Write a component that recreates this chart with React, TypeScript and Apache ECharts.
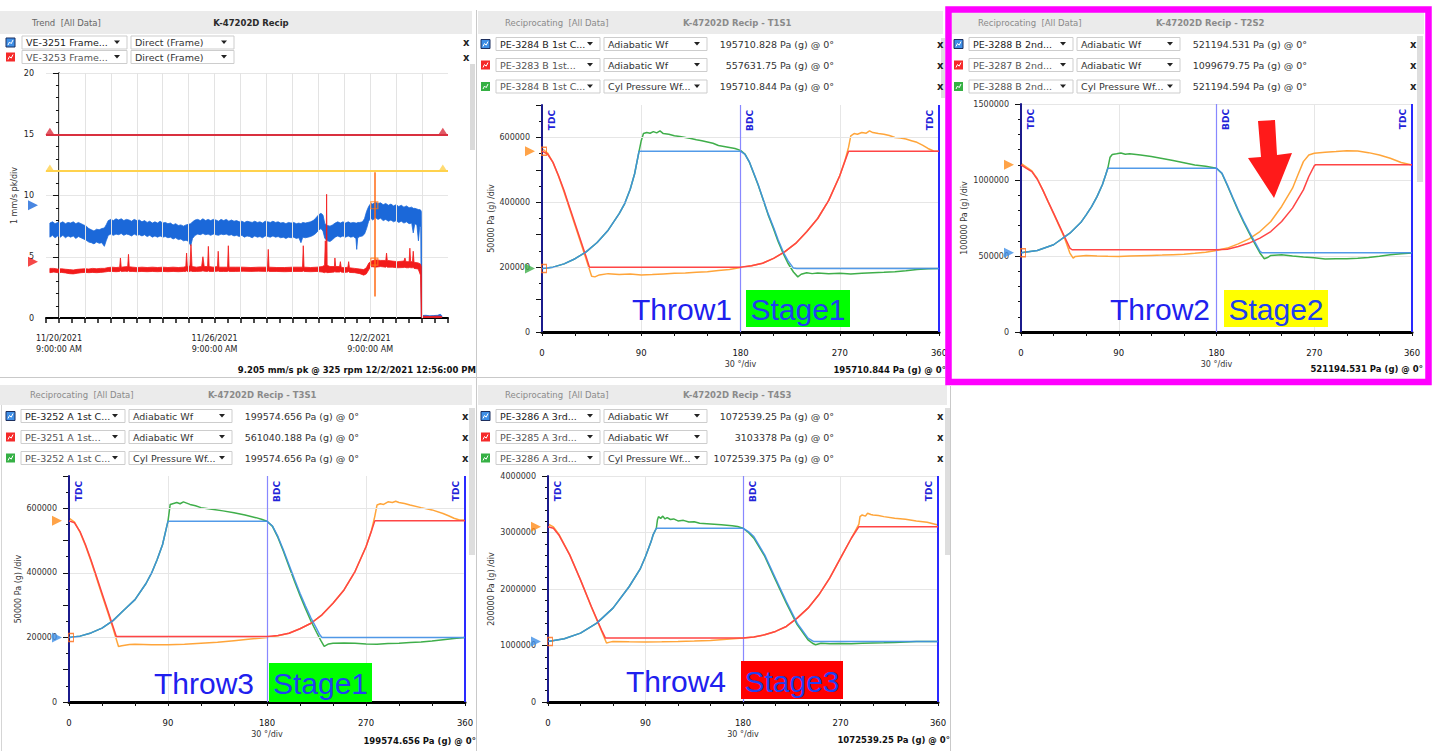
import React, { useEffect, useRef } from 'react';
import * as echarts from 'echarts';

const FONT = "'DejaVu Sans', Verdana, sans-serif";
const ARIAL = "'Liberation Sans', Arial, sans-serif";

// ---------------- Trend panel data (x = days since 11/20/2021 9:00 AM) ----------------
const trendTickDays = [0, 6, 12];
const trendTickDates = ['11/20/2021', '11/26/2021', '12/2/2021'];
const trendTickTime = '9:00:00 AM';
const trendGridDays = [0, 1, 2, 3, 4, 5, 6, 7, 8, 9, 10, 11, 12, 13, 14];
const trendLegend = [
  ['VE-3251 Frame...', 'Direct (Frame)'],
  ['VE-3253 Frame...', 'Direct (Frame)'],
];
const trendStatus = '9.205 mm/s pk @ 325 rpm 12/2/2021 12:56:00 PM';
const alarmHigh = 15;
const alarmWarn = 12;
const alarmMarkDays = [-0.35, 14.8];
const cursorDay = 12.16;
const cursorSpan = [1.75, 11.9];
const blueCurrent = 9.205;
const redCurrent = 4.6;

// [day, low, high] envelope of the noisy trend traces
const blueTrend = [
  [-0.35, 6.6, 7.75], [-0.25, 6.75, 7.85], [-0.15, 6.55, 7.7], [-0.05, 6.7, 7.8], [0.05, 6.6, 7.75],
  [0.15, 6.75, 7.85], [0.25, 6.55, 7.7], [0.35, 6.7, 7.8], [0.45, 6.6, 7.75], [0.55, 6.7, 7.85],
  [0.65, 6.5, 7.7], [0.75, 6.65, 7.8], [0.85, 6.55, 7.7], [0.95, 6.45, 7.6], [1.05, 6.35, 7.5],
  [1.15, 6.2, 7.3], [1.25, 6.15, 7.2], [1.35, 6.05, 7.1], [1.45, 6.2, 7.25], [1.55, 6.1, 7.2],
  [1.65, 6.15, 7.3], [1.75, 5.85, 7.35], [1.82, 6.3, 7.6], [1.9, 6.75, 7.95], [2.0, 6.85, 8.05],
  [2.1, 6.75, 7.95], [2.2, 6.85, 8.1], [2.3, 6.8, 8.0], [2.4, 6.9, 8.1], [2.5, 6.75, 7.95],
  [2.6, 6.85, 8.05], [2.7, 6.8, 8.0], [2.8, 6.7, 7.9], [2.9, 6.85, 8.05], [3.0, 6.75, 7.95],
  [3.1, 6.8, 8.0], [3.2, 6.7, 7.85], [3.3, 6.8, 7.95], [3.4, 6.65, 7.8], [3.5, 6.75, 7.9],
  [3.6, 6.6, 7.75], [3.7, 6.7, 7.85], [3.8, 6.6, 7.75], [3.9, 6.7, 7.9], [4.0, 6.6, 7.75],
  [4.1, 6.65, 7.8], [4.2, 6.55, 7.7], [4.3, 6.6, 7.75], [4.4, 6.45, 7.6], [4.5, 6.55, 7.7],
  [4.6, 6.4, 7.55], [4.7, 6.45, 7.6], [4.8, 6.3, 7.5], [4.9, 6.35, 7.6], [5.0, 6.25, 7.65],
  [5.08, 5.9, 7.7], [5.15, 6.5, 7.85], [5.25, 6.75, 8.0], [5.35, 6.85, 8.05], [5.45, 6.8, 7.95],
  [5.55, 6.9, 8.1], [5.65, 6.8, 7.95], [5.75, 6.85, 8.05], [5.85, 6.75, 7.95], [5.95, 6.85, 8.05],
  [6.05, 6.8, 8.0], [6.15, 6.75, 7.9], [6.25, 6.85, 8.05], [6.35, 6.8, 7.95], [6.45, 6.85, 8.05],
  [6.55, 6.75, 7.9], [6.65, 6.8, 8.0], [6.75, 6.7, 7.9], [6.85, 6.75, 7.95], [6.95, 6.65, 7.85],
  [7.05, 6.75, 7.9], [7.15, 6.6, 7.8], [7.25, 6.7, 7.9], [7.35, 6.65, 7.85], [7.45, 6.55, 7.8],
  [7.55, 6.7, 7.9], [7.65, 6.6, 7.8], [7.75, 6.65, 7.85], [7.85, 6.55, 7.75], [7.95, 6.7, 7.9],
  [8.05, 6.65, 7.85], [8.15, 6.6, 7.8], [8.25, 6.7, 7.9], [8.35, 6.6, 7.8], [8.45, 6.65, 7.85],
  [8.55, 6.55, 7.75], [8.65, 6.6, 7.8], [8.75, 6.5, 7.7], [8.85, 6.6, 7.8], [8.95, 6.55, 7.75],
  [9.05, 6.6, 7.8], [9.15, 6.5, 7.7], [9.25, 6.55, 7.75], [9.33, 6.15, 7.7], [9.4, 6.6, 7.8],
  [9.5, 6.55, 7.75], [9.6, 6.6, 7.8], [9.7, 6.65, 7.85], [9.8, 6.75, 7.95], [9.9, 6.9, 8.15],
  [10.0, 7.15, 8.4], [10.1, 7.3, 8.55], [10.18, 7.1, 8.4], [10.25, 6.5, 7.7], [10.35, 6.3, 7.55],
  [10.45, 6.25, 7.5], [10.55, 6.4, 7.6], [10.65, 6.6, 7.75], [10.75, 6.7, 7.85], [10.85, 6.6, 7.75],
  [10.95, 6.7, 7.85], [11.05, 6.6, 7.75], [11.15, 6.7, 7.85], [11.25, 6.6, 7.75], [11.35, 6.65, 7.8],
  [11.45, 6.5, 7.75], [11.48, 5.6, 7.75], [11.52, 6.55, 7.8], [11.6, 6.65, 7.8], [11.7, 6.7, 7.85],
  [11.78, 6.85, 8.1], [11.86, 7.3, 8.7], [11.94, 7.9, 9.1], [12.02, 8.15, 9.35], [12.1, 8.0, 9.3],
  [12.2, 8.2, 9.45], [12.3, 8.05, 9.35], [12.4, 8.15, 9.4], [12.5, 7.95, 9.25], [12.6, 8.05, 9.35],
  [12.7, 7.9, 9.2], [12.8, 8.0, 9.3], [12.9, 7.85, 9.15], [13.0, 7.95, 9.25], [13.1, 7.8, 9.1],
  [13.2, 7.9, 9.2], [13.3, 7.75, 9.05], [13.4, 7.85, 9.15], [13.5, 7.7, 9.0], [13.6, 7.75, 9.05],
  [13.66, 6.95, 8.95], [13.72, 7.7, 8.95], [13.8, 7.6, 8.9], [13.86, 6.3, 8.85], [13.91, 7.5, 8.85],
  [13.95, 7.4, 8.8], [13.97, 0.1, 8.7], [14.0, 0.05, 0.2], [14.15, 0.08, 0.22], [14.3, 0.05, 0.18],
  [14.45, 0.07, 0.2], [14.6, 0.05, 0.22], [14.7, 0.1, 0.3], [14.76, 0.05, 0.2],
];

const redTrend = [
  [-0.35, 3.7, 4.05], [-0.2, 3.75, 4.05], [-0.05, 3.7, 4.0], [0.1, 3.72, 4.02], [0.25, 3.68, 3.98],
  [0.4, 3.62, 3.95], [0.55, 3.6, 3.92], [0.7, 3.65, 3.97], [0.85, 3.7, 4.0], [1.0, 3.72, 4.02],
  [1.15, 3.7, 4.0], [1.3, 3.72, 4.05], [1.45, 3.7, 4.02], [1.6, 3.72, 4.05], [1.75, 3.75, 4.05],
  [1.9, 3.8, 4.12], [2.05, 3.8, 4.15], [2.2, 3.78, 4.12], [2.34, 3.8, 4.15], [2.37, 3.85, 4.9],
  [2.4, 3.8, 4.15], [2.55, 3.82, 4.18], [2.65, 3.8, 4.2], [2.68, 3.85, 5.2], [2.71, 3.8, 4.18],
  [2.85, 3.8, 4.15], [3.0, 3.78, 4.12], [3.2, 3.8, 4.15], [3.4, 3.78, 4.12], [3.6, 3.8, 4.15],
  [3.8, 3.78, 4.12], [4.0, 3.8, 4.15], [4.2, 3.78, 4.12], [4.4, 3.8, 4.15], [4.6, 3.78, 4.12],
  [4.8, 3.8, 4.15], [4.89, 3.8, 4.2], [4.92, 3.85, 5.3], [4.95, 3.8, 4.2], [5.05, 3.8, 4.25],
  [5.09, 3.85, 6.0], [5.13, 3.8, 4.2], [5.3, 3.8, 4.15], [5.5, 3.82, 4.2], [5.55, 3.85, 5.0],
  [5.6, 3.82, 4.2], [5.73, 3.8, 4.2], [5.76, 3.85, 5.85], [5.79, 3.8, 4.2], [5.95, 3.8, 4.15],
  [6.11, 3.82, 4.2], [6.14, 3.85, 5.45], [6.17, 3.8, 4.15], [6.35, 3.8, 4.15], [6.5, 3.8, 4.15],
  [6.53, 3.85, 5.9], [6.56, 3.8, 4.15], [6.8, 3.8, 4.15], [7.1, 3.82, 4.15], [7.4, 3.8, 4.12],
  [7.7, 3.82, 4.15], [8.04, 3.8, 4.15], [8.07, 3.85, 5.6], [8.1, 3.8, 4.15], [8.4, 3.8, 4.12],
  [8.7, 3.78, 4.12], [9.0, 3.8, 4.15], [9.39, 3.8, 4.15], [9.42, 3.85, 5.9], [9.45, 3.8, 4.15],
  [9.7, 3.78, 4.12], [9.95, 3.8, 4.15], [10.15, 3.75, 4.2], [10.24, 3.7, 4.3], [10.27, 3.75, 6.3],
  [10.3, 3.7, 4.3], [10.32, 3.75, 10.1], [10.34, 3.7, 4.3], [10.45, 3.72, 4.2], [10.62, 3.75, 4.2],
  [10.64, 3.8, 4.9], [10.67, 3.75, 4.2], [10.82, 3.75, 4.2], [10.85, 3.8, 4.6], [10.88, 3.75, 4.15],
  [11.0, 3.72, 4.1], [11.14, 3.75, 4.15], [11.17, 3.8, 4.6], [11.2, 3.72, 4.1], [11.4, 3.7, 4.05],
  [11.6, 3.62, 4.0], [11.75, 3.5, 3.95], [11.85, 3.6, 4.1], [11.95, 3.95, 4.5], [12.05, 4.2, 4.65],
  [12.2, 4.15, 4.75], [12.4, 4.2, 4.7], [12.6, 4.15, 4.7], [12.63, 4.2, 5.3], [12.66, 4.15, 4.7],
  [12.85, 4.15, 4.65], [13.05, 4.1, 4.6], [13.3, 4.12, 4.65], [13.34, 4.15, 4.9], [13.38, 4.1, 4.6],
  [13.5, 4.1, 4.6], [13.53, 4.15, 5.7], [13.56, 4.1, 4.6], [13.63, 4.1, 4.6], [13.66, 4.15, 5.45],
  [13.69, 4.05, 4.55], [13.85, 4.0, 4.5], [13.94, 3.5, 4.4], [13.97, 0.05, 4.2], [14.0, 0.03, 0.15],
  [14.3, 0.05, 0.12], [14.6, 0.03, 0.15], [14.76, 0.05, 0.12],
];

// ---------------- Crank-angle waveforms: [degrees, Pa (g)] ----------------
const t1s1Blue = [[0, 195710], [10, 200000], [20, 210000], [30, 226000], [40, 247000], [50, 276000], [60, 314000], [70, 365000], [75, 396000], [80, 440000], [84, 488000], [88, 557631], [180, 557631], [184, 548000], [188, 525000], [192, 490000], [196, 455000], [200, 415000], [205, 365000], [210, 322000], [214, 285000], [219, 245000], [223, 220000], [228, 197000], [231, 195710], [360, 195710]];
const t1s1Green = [[0, 195710], [10, 200000], [20, 210000], [30, 226000], [40, 247000], [50, 276000], [60, 314000], [70, 365000], [75, 396000], [80, 440000], [84, 488000], [88, 557000], [90, 590000], [92, 612000], [95, 615000], [98, 613000], [101, 618000], [104, 614000], [107, 620000], [110, 612000], [115, 610000], [120, 605000], [125, 603000], [130, 600000], [135, 597000], [140, 593000], [145, 590000], [150, 586000], [155, 582000], [160, 575000], [165, 572000], [170, 569000], [175, 566000], [180, 560000], [184, 549000], [188, 524000], [192, 489000], [196, 453000], [200, 413000], [205, 362000], [210, 318000], [214, 280000], [219, 240000], [223, 212000], [228, 185000], [232, 170000], [235, 178000], [240, 183000], [245, 180000], [250, 182000], [260, 180000], [270, 181000], [280, 179000], [290, 181000], [300, 183000], [310, 184000], [320, 186000], [330, 189000], [340, 193000], [350, 195000], [360, 195710]];
const t1s1Red = [[0, 557631], [5, 549000], [10, 523000], [15, 482000], [20, 436000], [25, 385000], [30, 334000], [35, 283000], [40, 232000], [43, 200000], [180, 200000], [190, 204000], [200, 212000], [210, 227000], [220, 247000], [230, 273000], [240, 309000], [250, 350000], [260, 406000], [270, 482000], [275, 530000], [278, 557631], [360, 557631]];
const t1s1Orange = [[0, 566000], [5, 552000], [10, 522000], [15, 480000], [20, 432000], [25, 380000], [30, 328000], [35, 277000], [40, 225000], [45, 172000], [48, 170000], [52, 176000], [60, 180000], [70, 177000], [80, 179000], [90, 176000], [100, 177000], [110, 179000], [120, 181000], [130, 182000], [140, 184000], [150, 186000], [160, 190000], [170, 193000], [180, 199000], [190, 204000], [200, 212000], [210, 227000], [220, 247000], [230, 273000], [240, 309000], [250, 350000], [260, 406000], [270, 482000], [275, 532000], [278, 570000], [280, 605000], [283, 612000], [286, 610000], [290, 615000], [294, 613000], [297, 620000], [300, 615000], [305, 612000], [310, 610000], [315, 606000], [320, 600000], [325, 598000], [330, 595000], [335, 590000], [340, 585000], [345, 576000], [350, 566000], [355, 558000], [360, 557631]];

const t2s2Blue = [[0, 521194], [15, 536000], [30, 574000], [45, 650000], [55, 720000], [60, 771000], [65, 825000], [70, 891000], [75, 970000], [78, 1034000], [80, 1077000], [180, 1077000], [185, 1045000], [190, 968000], [195, 885000], [200, 804000], [205, 730000], [210, 661000], [215, 596000], [220, 530000], [222, 521194], [360, 521194]];
const t2s2Green = [[0, 521194], [15, 536000], [30, 574000], [45, 650000], [55, 720000], [60, 771000], [65, 825000], [70, 891000], [75, 970000], [78, 1034000], [80, 1080000], [82, 1150000], [84, 1168000], [88, 1172000], [92, 1178000], [96, 1170000], [100, 1172000], [110, 1165000], [120, 1154000], [130, 1142000], [140, 1128000], [150, 1114000], [160, 1099000], [170, 1090000], [175, 1084000], [180, 1077000], [185, 1043000], [190, 964000], [195, 880000], [200, 798000], [205, 722000], [210, 652000], [215, 585000], [220, 520000], [224, 482000], [227, 490000], [230, 504000], [240, 508000], [250, 500000], [260, 493000], [270, 488000], [280, 480000], [290, 482000], [300, 482000], [310, 485000], [320, 490000], [330, 498000], [340, 508000], [350, 515000], [360, 519000]];
const t2s2Red = [[0, 1099679], [5, 1077000], [10, 1055000], [15, 1005000], [20, 935000], [25, 858000], [30, 782000], [35, 705000], [40, 628000], [45, 552000], [47, 541000], [180, 541000], [190, 545000], [200, 563000], [210, 585000], [220, 618000], [230, 661000], [240, 727000], [250, 815000], [260, 935000], [265, 1023000], [270, 1093000], [271, 1099679], [360, 1099679]];
const t2s2Orange = [[0, 1110000], [5, 1085000], [10, 1060000], [15, 1008000], [20, 935000], [25, 855000], [30, 778000], [35, 700000], [40, 620000], [45, 519000], [48, 486000], [50, 497000], [60, 504000], [70, 500000], [80, 498000], [90, 497000], [100, 500000], [110, 502000], [120, 504000], [130, 506000], [140, 509000], [150, 512000], [160, 518000], [170, 525000], [180, 536000], [190, 552000], [200, 580000], [210, 613000], [220, 661000], [230, 727000], [240, 826000], [250, 946000], [255, 1034000], [260, 1121000], [265, 1165000], [270, 1176000], [280, 1182000], [290, 1187000], [300, 1193000], [310, 1191000], [320, 1180000], [330, 1165000], [340, 1143000], [350, 1115000], [360, 1099000]];

const t3s1Blue = [[0, 199574], [10, 204000], [20, 214000], [30, 229000], [40, 252000], [50, 285000], [60, 317000], [70, 367000], [75, 399000], [80, 440000], [85, 487000], [90, 560000], [180, 560000], [185, 545000], [190, 512000], [195, 470000], [200, 425000], [205, 380000], [210, 337000], [215, 297000], [220, 260000], [225, 228000], [228, 208000], [230, 200000], [360, 200000]];
const t3s1Green = [[0, 199574], [10, 204000], [20, 214000], [30, 229000], [40, 252000], [50, 285000], [60, 317000], [70, 367000], [75, 399000], [80, 440000], [85, 487000], [90, 560000], [92, 612000], [95, 615000], [98, 618000], [101, 614000], [104, 620000], [107, 616000], [110, 612000], [115, 608000], [120, 602000], [130, 597000], [140, 592000], [150, 586000], [160, 579000], [170, 571000], [175, 566000], [180, 560000], [185, 544000], [190, 509000], [195, 466000], [200, 420000], [205, 374000], [210, 330000], [215, 289000], [220, 250000], [225, 216000], [229, 190000], [232, 172000], [236, 180000], [240, 182000], [250, 183000], [260, 182000], [270, 180000], [280, 179000], [290, 181000], [300, 182000], [310, 184000], [320, 186000], [330, 189000], [340, 193000], [350, 197000], [360, 200000]];
const t3s1Red = [[0, 561040], [5, 555000], [10, 528000], [15, 487000], [20, 440000], [25, 389000], [30, 337000], [35, 286000], [40, 234000], [43, 203000], [180, 203000], [190, 206000], [200, 213000], [210, 227000], [220, 244000], [230, 270000], [240, 306000], [250, 347000], [260, 404000], [270, 481000], [275, 530000], [278, 561040], [360, 561040]];
const t3s1Orange = [[0, 570000], [5, 557000], [10, 526000], [15, 484000], [20, 436000], [25, 384000], [30, 331000], [35, 280000], [40, 228000], [45, 172000], [48, 174000], [55, 178000], [60, 179000], [75, 177000], [90, 177000], [105, 179000], [120, 182000], [135, 185000], [150, 190000], [165, 195000], [180, 200000], [190, 205000], [200, 213000], [210, 227000], [220, 244000], [230, 270000], [240, 306000], [250, 347000], [260, 404000], [270, 481000], [275, 532000], [278, 575000], [280, 610000], [283, 614000], [286, 612000], [290, 620000], [294, 618000], [297, 622000], [300, 618000], [305, 615000], [310, 610000], [320, 602000], [330, 595000], [340, 584000], [345, 577000], [350, 569000], [355, 564000], [360, 564000]];

const t4s3Blue = [[0, 1072539], [15, 1119000], [30, 1219000], [45, 1396000], [60, 1661000], [75, 2044000], [85, 2350000], [90, 2574000], [95, 2830000], [97, 2957000], [100, 3075000], [180, 3075000], [185, 3016000], [190, 2928000], [200, 2604000], [210, 2191000], [220, 1779000], [230, 1396000], [240, 1131000], [245, 1072539], [360, 1072539]];
const t4s3Green = [[0, 1072539], [15, 1119000], [30, 1219000], [45, 1396000], [60, 1661000], [75, 2044000], [85, 2350000], [90, 2574000], [95, 2830000], [97, 2957000], [100, 3075000], [101, 3220000], [102, 3281000], [104, 3250000], [106, 3290000], [108, 3240000], [110, 3264000], [113, 3230000], [116, 3240000], [120, 3205000], [125, 3215000], [130, 3185000], [135, 3190000], [140, 3164000], [150, 3150000], [160, 3135000], [170, 3120000], [175, 3105000], [180, 3075000], [185, 3000000], [190, 2900000], [200, 2580000], [210, 2160000], [220, 1750000], [230, 1370000], [240, 1100000], [245, 1030000], [247, 1013000], [252, 1040000], [260, 1031000], [270, 1035000], [280, 1031000], [290, 1038000], [300, 1043000], [310, 1048000], [320, 1054000], [330, 1062000], [340, 1072000], [350, 1070000], [360, 1072539]];
const t4s3Red = [[0, 3103378], [5, 3075000], [10, 2957000], [20, 2604000], [30, 2162000], [40, 1691000], [50, 1249000], [53, 1131000], [180, 1131000], [190, 1149000], [200, 1190000], [210, 1249000], [220, 1337000], [230, 1485000], [240, 1661000], [250, 1897000], [260, 2191000], [270, 2545000], [280, 2898000], [287, 3103378], [360, 3103378]];
const t4s3Orange = [[0, 3150000], [5, 3100000], [10, 2970000], [20, 2610000], [30, 2160000], [40, 1680000], [50, 1230000], [54, 1043000], [57, 1060000], [60, 1072000], [75, 1065000], [90, 1060000], [105, 1065000], [120, 1072000], [135, 1080000], [150, 1090000], [165, 1110000], [180, 1131000], [190, 1149000], [200, 1190000], [210, 1249000], [220, 1337000], [230, 1485000], [240, 1661000], [250, 1897000], [260, 2191000], [270, 2545000], [280, 2898000], [287, 3150000], [288, 3281000], [290, 3311000], [293, 3290000], [295, 3340000], [298, 3320000], [300, 3311000], [305, 3300000], [310, 3281000], [320, 3252000], [330, 3234000], [340, 3205000], [350, 3181000], [360, 3134000]];

const t1s1Legend = [['PE-3284 B 1st C...', 'Adiabatic Wf', '195710.828 Pa (g) @ 0°'], ['PE-3283 B 1st...', 'Adiabatic Wf', '557631.75 Pa (g) @ 0°'], ['PE-3284 B 1st C...', 'Cyl Pressure Wf...', '195710.844 Pa (g) @ 0°']];
const t2s2Legend = [['PE-3288 B 2nd...', 'Adiabatic Wf', '521194.531 Pa (g) @ 0°'], ['PE-3287 B 2nd...', 'Adiabatic Wf', '1099679.75 Pa (g) @ 0°'], ['PE-3288 B 2nd...', 'Cyl Pressure Wf...', '521194.594 Pa (g) @ 0°']];
const t3s1Legend = [['PE-3252 A 1st C...', 'Adiabatic Wf', '199574.656 Pa (g) @ 0°'], ['PE-3251 A 1st...', 'Adiabatic Wf', '561040.188 Pa (g) @ 0°'], ['PE-3252 A 1st C...', 'Cyl Pressure Wf...', '199574.656 Pa (g) @ 0°']];
const t4s3Legend = [['PE-3286 A 3rd...', 'Adiabatic Wf', '1072539.25 Pa (g) @ 0°'], ['PE-3285 A 3rd...', 'Adiabatic Wf', '3103378 Pa (g) @ 0°'], ['PE-3286 A 3rd...', 'Cyl Pressure Wf...', '1072539.375 Pa (g) @ 0°']];

const stage1Grid = [200000, 400000, 600000];

const C = { blue: '#3f8fe6', red: '#ff4545', green: '#3fae4a', orange: '#ffa53a' };

// layout of the four waveform panels
const wavePanels = [
  {
    title: 'K-47202D Recip - T1S1', legend: t1s1Legend, status: '195710.844 Pa (g) @ 0°', unit: '50000 Pa (g) /div',
    lines: [t1s1Orange, t1s1Green, t1s1Red, t1s1Blue], yMax: 700000, yInt: 100000, labelEvery: 200000, minor: 2, hGrid: stage1Grid,
    markers: { orange: 557631, low: 195710, lowColor: C.green, highSquare: true },
    throwTxt: 'Throw1', stageTxt: 'Stage1', stageBg: '#00ff00',
    x0: 475, band: [478, 11, 465, 23], headY: 23, rows: [44, 65, 86.5], statusX: 946, statusY: 370,
    grid: { left: 542, top: 105, width: 397, height: 227 }, nameGap: 46,
    throwX: 632, stageBox: [746, 290, 104, 37], scroll: [941, 38, 4, 60],
  },
  {
    title: 'K-47202D Recip - T2S2', legend: t2s2Legend, status: '521194.531 Pa (g) @ 0°', unit: '100000 Pa (g) /div',
    lines: [t2s2Orange, t2s2Green, t2s2Red, t2s2Blue], yMax: 1500000, yInt: 500000, labelEvery: 500000, minor: 5, hGrid: null,
    markers: { orange: 1099679, low: 521194, lowColor: C.blue, highSquare: false },
    throwTxt: 'Throw2', stageTxt: 'Stage2', stageBg: '#ffff00',
    x0: 948, band: [952, 12, 472, 22], headY: 23, rows: [44, 65, 86.5], statusX: 1423, statusY: 369,
    grid: { left: 1021, top: 104, width: 391, height: 228 }, nameGap: 53,
    throwX: 1110, stageBox: [1224, 290, 104, 37], scroll: [1417, 36, 6, 146],
  },
  {
    title: 'K-47202D Recip - T3S1', legend: t3s1Legend, status: '199574.656 Pa (g) @ 0°', unit: '50000 Pa (g) /div',
    lines: [t3s1Orange, t3s1Green, t3s1Red, t3s1Blue], yMax: 700000, yInt: 100000, labelEvery: 200000, minor: 2, hGrid: stage1Grid,
    markers: { orange: 561040, low: 199574, lowColor: C.blue, highSquare: false },
    throwTxt: 'Throw3', stageTxt: 'Stage1', stageBg: '#00ff00',
    x0: 0, band: [0, 385, 472, 20], headY: 395, rows: [416, 437, 458], statusX: 476, statusY: 741,
    grid: { left: 69, top: 476, width: 396, height: 226 }, nameGap: 46,
    throwX: 154, stageBox: [269, 663, 103, 39], scroll: [469, 408, 6, 147],
  },
  {
    title: 'K-47202D Recip - T4S3', legend: t4s3Legend, status: '1072539.25 Pa (g) @ 0°', unit: '200000 Pa (g) /div',
    lines: [t4s3Orange, t4s3Green, t4s3Red, t4s3Blue], yMax: 4000000, yInt: 1000000, labelEvery: 1000000, minor: 5, hGrid: null,
    markers: { orange: 3103378, low: 1072539, lowColor: C.blue, highSquare: false },
    throwTxt: 'Throw4', stageTxt: 'Stage3', stageBg: '#ff0000',
    x0: 475, band: [478, 385, 469, 20], headY: 395, rows: [416, 437, 458], statusX: 950, statusY: 740,
    grid: { left: 548, top: 476, width: 390, height: 226 }, nameGap: 53,
    throwX: 626, stageBox: [741, 661, 102, 38], scroll: [945, 408, 5, 147],
  },
];

function txt(x: number, y: number, s: string, size: number, color: string, o: any = {}) {
  const font = `${o.weight || 'normal'} ${size}px ${o.family || FONT}`;
  return {
    type: 'text', x, y, silent: true, z: o.z ?? 20,
    style: {
      text: s, font, fill: color,
      align: o.align || 'left', textAlign: o.align || 'left',
      verticalAlign: o.va || 'middle', textVerticalAlign: o.va || 'middle',
    },
  };
}

function rect(x: number, y: number, w: number, h: number, fill: string, stroke?: string, lw = 1, z = 5) {
  return { type: 'rect', silent: true, z, shape: { x, y, width: w, height: h }, style: { fill, stroke: stroke || null, lineWidth: stroke ? lw : 0 } };
}

function dropdown(els: any[], x: number, y: number, w: number, label: string, color: string) {
  els.push(rect(x, y - 6.5, w, 13, '#ffffff', '#cdcdcd', 1, 6));
  els.push(txt(x + 4, y, label, 9.5, color));
  els.push({ type: 'polygon', silent: true, z: 21, shape: { points: [[x + w - 13, y - 2], [x + w - 7, y - 2], [x + w - 10, y + 1.5]] }, style: { fill: '#222' } });
}

function icon(els: any[], x: number, y: number, color: string, selected: boolean) {
  els.push(rect(x, y - 4.5, 9, 9, color, selected ? '#1d2f5e' : (null as any), 1, 7));
  els.push({ type: 'polyline', silent: true, z: 8, shape: { points: [[x + 2, y + 2.5], [x + 3.5, y - 0.5], [x + 5.2, y + 1.2], [x + 7, y - 2.5]] }, style: { stroke: '#ffffff', lineWidth: 1, fill: null } });
}

// filled envelope between low and high values, drawn through the axes
function bandSeries(rows: number[][], color: string, z: number) {
  return {
    type: 'custom', coordinateSystem: 'cartesian2d', xAxisIndex: 0, yAxisIndex: 0, z, silent: true,
    data: [[rows[0][0], rows[0][1]]],
    renderItem: (_p: any, api: any) => {
      const upper = rows.map((r) => api.coord([r[0], r[2]]));
      const lower = rows.slice().reverse().map((r) => api.coord([r[0], r[1]]));
      return { type: 'polygon', shape: { points: upper.concat(lower) }, style: { fill: color, stroke: color, lineWidth: 0.8 } };
    },
  };
}

function buildOption() {
  const els: any[] = [];

  // panel separators
  els.push({ type: 'line', silent: true, z: 1, shape: { x1: 476.5, y1: 10, x2: 476.5, y2: 751 }, style: { stroke: '#c9c9c9', lineWidth: 1 } });
  els.push({ type: 'line', silent: true, z: 1, shape: { x1: 0, y1: 377.5, x2: 945, y2: 377.5 }, style: { stroke: '#c9c9c9', lineWidth: 1 } });
  els.push({ type: 'line', silent: true, z: 1, shape: { x1: 950.5, y1: 386, x2: 950.5, y2: 751 }, style: { stroke: '#c9c9c9', lineWidth: 1 } });
  els.push({ type: 'line', silent: true, z: 1, shape: { x1: 1.5, y1: 386, x2: 1.5, y2: 751 }, style: { stroke: '#d5d5d5', lineWidth: 1 } });

  // trend panel header + legend
  els.push(rect(0, 11, 472, 23, '#ebebeb'));
  els.push(txt(32, 23, 'Trend  [All Data]', 8.5, '#666'));
  els.push(txt(251, 23, 'K-47202D Recip', 8.5, '#2a2a2a', { weight: 'bold', align: 'center' }));
  const trendRows = [42.5, 57];
  const trendIcon = [C.blue, '#f52a2a'];
  trendLegend.forEach((r, i) => {
    const y = trendRows[i];
    icon(els, 6, y, trendIcon[i], i === 0);
    dropdown(els, 22, y, 105, r[0], i === 0 ? '#222' : '#555');
    dropdown(els, 131, y, 103, r[1], '#333');
    els.push(txt(463, y, 'x', 10, '#222', { weight: 'bold' }));
  });
  els.push(rect(470, 64, 5, 86, '#dadada'));
  els.push(txt(476, 370, trendStatus, 8.5, '#111', { weight: 'bold', align: 'right' }));

  // waveform panels chrome
  wavePanels.forEach((p) => {
    els.push(rect(p.band[0], p.band[1], p.band[2], p.band[3], '#ebebeb'));
    els.push(txt(p.x0 + 30, p.headY, 'Reciprocating  [All Data]', 8.5, '#8a8a8a'));
    els.push(txt(p.x0 + 208, p.headY, p.title, 8.5, '#8a8a8a', { weight: 'bold' }));
    const iconCols = [C.blue, '#f52a2a', '#35b044'];
    p.legend.forEach((r, i) => {
      const y = p.rows[i];
      icon(els, p.x0 + 6, y, iconCols[i], i === 0);
      dropdown(els, p.x0 + 21, y, 104, r[0], i === 0 ? '#222' : '#555');
      dropdown(els, p.x0 + 129, y, 103, r[1], '#333');
      els.push(txt(p.x0 + 359, y, r[2], 9.5, '#333', { align: 'right' }));
      els.push(txt(p.x0 + 462, y, 'x', 10, '#222', { weight: 'bold' }));
    });
    els.push(rect(p.scroll[0], p.scroll[1], p.scroll[2], p.scroll[3], '#dedede'));
    els.push(txt(p.statusX, p.statusY, p.status, 8.5, '#111', { weight: 'bold', align: 'right' }));
    // annotations
    els.push(txt(p.throwX, p.stageBox[1] + p.stageBox[3] / 2 + 1, p.throwTxt, 30, '#2020ee', { family: ARIAL, z: 30 }));
    els.push(rect(p.stageBox[0], p.stageBox[1], p.stageBox[2], p.stageBox[3], p.stageBg, null as any, 1, 29));
    els.push(txt(p.stageBox[0] + p.stageBox[2] / 2, p.stageBox[1] + p.stageBox[3] / 2 + 1, p.stageTxt, 30, '#2040f0', { family: ARIAL, align: 'center', z: 30 }));
  });

  // red arrow in T2S2
  els.push({
    type: 'polygon', silent: true, z: 31,
    shape: { points: [[1258, 121], [1275, 120], [1277, 155], [1292, 153], [1274, 198], [1248, 158], [1261, 157]] },
    style: { fill: '#ff1a1a' },
  });
  // magenta highlight frame
  els.push({ type: 'rect', silent: true, z: 40, shape: { x: 948.5, y: 9.5, width: 480, height: 372.5 }, style: { fill: null, stroke: '#ff00ff', lineWidth: 6.5 } });

  // ---------------- axes ----------------
  const grids: any[] = [{ left: 46, top: 73, width: 402, height: 245 }];
  wavePanels.forEach((p) => grids.push(p.grid));

  const axisLabelBase = { fontFamily: FONT, fontSize: 8, color: '#222' };
  const xAxes: any[] = [{
    type: 'value', gridIndex: 0, min: -0.5, max: 15, interval: 0.5,
    axisLine: { show: true, onZero: false, lineStyle: { color: '#000', width: 2 } },
    axisTick: { show: true, length: 5, lineStyle: { color: '#111', width: 1.5 } },
    axisLabel: {
      ...axisLabelBase, margin: 15, lineHeight: 11, showMinLabel: true, showMaxLabel: true,
      formatter: (v: number) => {
        const i = trendTickDays.indexOf(v);
        return i >= 0 ? `${trendTickDates[i]}\n${trendTickTime}` : '';
      },
    },
    splitLine: { show: false },
  }];
  const yAxes: any[] = [{
    type: 'value', gridIndex: 0, min: 0, max: 20, interval: 5,
    axisLine: { show: true, lineStyle: { color: '#000', width: 1.5 } },
    axisTick: { show: true, length: 6, lineStyle: { color: '#111' } },
    minorTick: { show: true, splitNumber: 5, length: 3, lineStyle: { color: '#111' } },
    axisLabel: { ...axisLabelBase, margin: 12 },
    splitLine: { show: true, lineStyle: { color: '#e6e6e6' } },
    name: '1 mm/s pk/div', nameLocation: 'middle', nameRotate: 90, nameGap: 28,
    nameTextStyle: { fontFamily: FONT, fontSize: 8, color: '#333' },
  }];

  wavePanels.forEach((p, k) => {
    const gi = k + 1;
    xAxes.push({
      type: 'value', gridIndex: gi, min: 0, max: 360, interval: 90,
      axisLine: { show: true, onZero: false, lineStyle: { color: '#000', width: 3 } },
      axisTick: { show: true, length: 4, lineStyle: { color: '#111' } },
      minorTick: { show: true, splitNumber: 3, length: 4, lineStyle: { color: '#111' } },
      axisLabel: { ...axisLabelBase, fontSize: 8.5, color: '#111', margin: 16, showMinLabel: true, showMaxLabel: true },
      splitLine: { show: true, lineStyle: { color: '#e6e6e6' } },
      name: '30 °/div', nameLocation: 'middle', nameGap: 28,
      nameTextStyle: { fontFamily: FONT, fontSize: 8, color: '#333' },
    });
    yAxes.push({
      type: 'value', gridIndex: gi, min: 0, max: p.yMax, interval: p.yInt,
      axisLine: { show: true, lineStyle: { color: '#1b1b8c', width: 2 } },
      axisTick: { show: true, length: 6, lineStyle: { color: '#111' } },
      minorTick: { show: true, splitNumber: p.minor, length: 3, lineStyle: { color: '#111' } },
      axisLabel: {
        ...axisLabelBase, color: '#333', margin: 12, showMaxLabel: true,
        formatter: (v: number) => (v % p.labelEvery === 0 ? String(v) : ''),
      },
      splitLine: { show: !p.hGrid, lineStyle: { color: '#e6e6e6' } },
      name: p.unit, nameLocation: 'middle', nameRotate: 90, nameGap: p.nameGap,
      nameTextStyle: { fontFamily: FONT, fontSize: 8, color: '#333' },
    });
  });

  // ---------------- series ----------------
  const series: any[] = [];
  // daily vertical grid lines of the trend
  series.push({
    type: 'scatter', xAxisIndex: 0, yAxisIndex: 0, z: 1, symbolSize: 0, silent: true, data: [[-0.5, 0]],
    markLine: {
      silent: true, symbol: ['none', 'none'], label: { show: false },
      lineStyle: { color: '#e3e3e3', width: 1, type: 'solid' },
      data: trendGridDays.map((d) => ({ xAxis: d })),
    },
  });
  series.push(bandSeries(blueTrend, '#1b68d9', 3));
  series.push(bandSeries(redTrend, '#f21a1a', 4));
  // alarm lines + triangles
  series.push({
    type: 'scatter', xAxisIndex: 0, yAxisIndex: 0, clip: false, z: 6, symbol: 'triangle', symbolSize: [9, 7], symbolOffset: [0, -3],
    data: alarmMarkDays.map((d) => [d, alarmHigh]), itemStyle: { color: '#d9303f' },
    markLine: {
      silent: true, symbol: ['none', 'none'], label: { show: false },
      data: [{ yAxis: alarmHigh, lineStyle: { color: '#d9303f', width: 2, type: 'solid' } }],
    },
  });
  series.push({
    type: 'scatter', xAxisIndex: 0, yAxisIndex: 0, clip: false, z: 6, symbol: 'triangle', symbolSize: [9, 7], symbolOffset: [0, -3],
    data: alarmMarkDays.map((d) => [d, alarmWarn]), itemStyle: { color: '#ffd24d' },
    markLine: {
      silent: true, symbol: ['none', 'none'], label: { show: false },
      data: [{ yAxis: alarmWarn, lineStyle: { color: '#ffd24d', width: 2, type: 'solid' } }],
    },
  });
  // current-value pointers
  series.push({
    type: 'scatter', xAxisIndex: 0, yAxisIndex: 0, clip: false, z: 6, symbol: 'triangle', symbolRotate: -90, symbolSize: [10, 10], symbolOffset: [-13, 0],
    data: [{ value: [-0.5, blueCurrent], itemStyle: { color: '#1b68d9' } }, { value: [-0.5, redCurrent], itemStyle: { color: '#f21a1a' } }],
  });
  // cursor
  series.push({
    type: 'scatter', xAxisIndex: 0, yAxisIndex: 0, clip: false, z: 7, symbol: 'rect', symbolSize: 7,
    data: [[cursorDay, blueCurrent], [cursorDay, redCurrent]],
    itemStyle: { color: 'rgba(0,0,0,0)', borderColor: '#ff7a1a', borderWidth: 1.2 },
    markLine: {
      silent: true, symbol: ['none', 'none'], label: { show: false },
      data: [[{ coord: [cursorDay, cursorSpan[0]] }, { coord: [cursorDay, cursorSpan[1]] }]],
      lineStyle: { color: '#ff6a13', width: 1.5, type: 'solid' },
    },
  });

  const lineColors = [C.orange, C.green, C.red, C.blue];
  wavePanels.forEach((p, k) => {
    const gi = k + 1;
    if (p.hGrid) {
      series.push({
        type: 'scatter', xAxisIndex: gi, yAxisIndex: gi, z: 1, symbolSize: 0, silent: true, data: [[0, 0]],
        markLine: {
          silent: true, symbol: ['none', 'none'], label: { show: false },
          lineStyle: { color: '#e6e6e6', width: 1, type: 'solid' },
          data: p.hGrid.map((v) => ({ yAxis: v })),
        },
      });
    }
    p.lines.forEach((d, j) => {
      const s: any = {
        type: 'line', xAxisIndex: gi, yAxisIndex: gi, data: d, symbol: 'none', z: 3 + j,
        lineStyle: { color: lineColors[j], width: 1.5, opacity: j === 3 ? 0.9 : 1 },
      };
      if (j === 0) {
        s.markLine = {
          silent: true, symbol: ['none', 'none'],
          label: { show: true, color: '#2323d8', fontWeight: 'bold', fontSize: 9, fontFamily: FONT },
          data: [
            { xAxis: 0, lineStyle: { color: '#1b1b8c', width: 2, type: 'solid' }, label: { formatter: 'TDC', position: 'insideEndBottom' } },
            { xAxis: 180, lineStyle: { color: '#8888ff', width: 1.2, type: 'solid' }, label: { formatter: 'BDC', position: 'insideEndBottom' } },
            { xAxis: 360, lineStyle: { color: '#2a2aff', width: 2, type: 'solid' }, label: { formatter: 'TDC', position: 'insideEndTop' } },
          ],
        };
      }
      series.push(s);
    });
    series.push({
      type: 'scatter', xAxisIndex: gi, yAxisIndex: gi, clip: false, z: 9, symbol: 'triangle', symbolRotate: -90, symbolSize: [10, 10], symbolOffset: [-12, 0],
      data: [
        { value: [0, p.markers.orange], itemStyle: { color: '#ff8c1a' } },
        { value: [0, p.markers.low], itemStyle: { color: p.markers.lowColor } },
      ],
    });
    const sq: any[] = [[0, p.markers.low]];
    if (p.markers.highSquare) sq.push([0, p.markers.orange]);
    series.push({
      type: 'scatter', xAxisIndex: gi, yAxisIndex: gi, clip: false, z: 10, symbol: 'rect', symbolSize: [5, 8], symbolOffset: [2, 0],
      data: sq, itemStyle: { color: 'rgba(0,0,0,0)', borderColor: '#ff6a13', borderWidth: 1.2 },
    });
  });

  return {
    animation: false,
    backgroundColor: '#ffffff',
    textStyle: { fontFamily: FONT },
    grid: grids.map((g) => ({ ...g, containLabel: false, outerBoundsMode: 'none' })),
    xAxis: xAxes,
    yAxis: yAxes,
    series,
    graphic: els,
  };
}

export default function App() {
  const ref = useRef<HTMLDivElement>(null);
  useEffect(() => {
    if (!ref.current) return;
    const chart = echarts.init(ref.current, null, { renderer: 'svg' });
    chart.setOption(buildOption() as any);
    return () => chart.dispose();
  }, []);
  return <div ref={ref} style={{ position: 'absolute', left: 0, top: 0, width: 1432, height: 751, background: '#fff' }} />;
}
